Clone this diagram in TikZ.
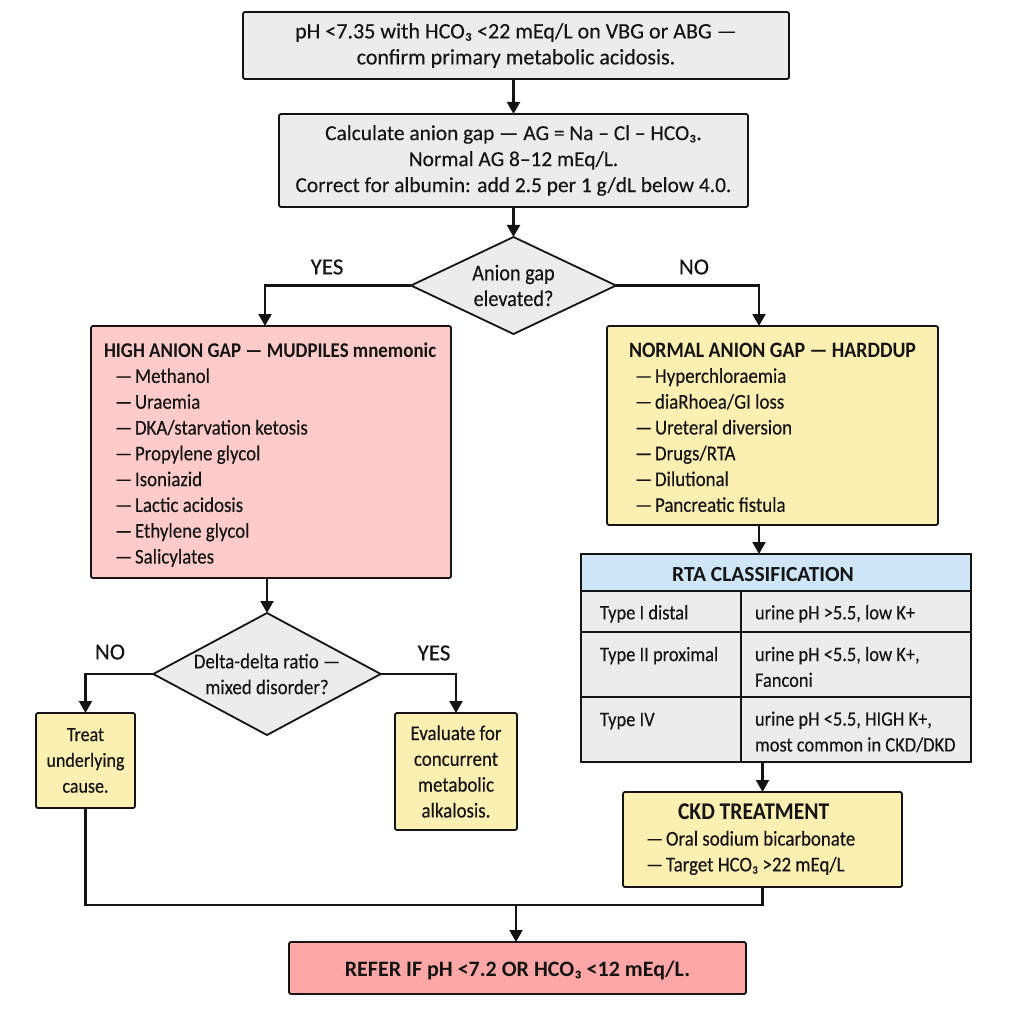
\documentclass[tikz,border=0pt]{standalone}
\usepackage{fontspec}
\setmainfont{Carlito}[FakeBold=0.25,BoldFeatures={FakeBold=0}]
\newfontfamily\listfont{Carlito}[Ligatures=TeX,FakeStretch=0.9,FakeBold=0.25,BoldFeatures={FakeBold=0}]
\usetikzlibrary{arrows.meta,shapes.geometric}
\definecolor{boxgrey}{HTML}{ECECEC}
\definecolor{boxyellow}{HTML}{FBF0B2}
\definecolor{boxpink}{HTML}{FFCACA}
\definecolor{boxblue}{HTML}{CFE5F8}
\definecolor{boxred}{HTML}{FFA6A6}
\definecolor{inkblack}{HTML}{141414}
\newcommand{\itemline}[2]{\hspace*{#1pt}\makebox[20pt][l]{---}#2}
\begin{document}
\begin{tikzpicture}[x=1pt,y=-1pt,
    every node/.style={outer sep=0pt,text=inkblack,font=\fontsize{22}{26}\selectfont},
    narrow/.style={font=\listfont\fontsize{#1}{25.8}\selectfont},
    narrow/.default=21,
    dropped/.style={execute at begin node={\rule{0pt}{#1}}},
    dropped/.default=20pt,
    flowbox/.style={draw=inkblack,line width=1.8pt,rounded corners=2pt,align=center,inner sep=0pt},
    listbox/.style={flowbox,narrow,align=flush left},
    decision/.style={diamond,draw=inkblack,line width=1.8pt,fill=boxgrey,align=center,inner sep=0pt,aspect=2,dropped},
    cell/.style={draw=inkblack,line width=1.8pt,fill=boxgrey,align=flush left,anchor=north west,narrow=20.5,dropped=19pt},
    branch/.style={font=\fontsize{23}{26}\selectfont},
    link/.style={draw=inkblack,line width=2.1pt},
    arrow/.style={link,-{Triangle[length=12pt,width=13pt]}}]
    \path[use as bounding box] (0,0) rectangle (1024,1024);

    % top of the flow
    \node[flowbox,dropped,fill=boxgrey,minimum width=546,minimum height=67] (start) at (516,45.5)
        {pH <7.35 with HCO₃ <22 mEq/L on VBG or ABG ---\\confirm primary metabolic acidosis.};
    \node[flowbox,dropped,fill=boxgrey,minimum width=469,minimum height=93,font=\fontsize{21.4}{26}\selectfont] (calc) at (513.5,160.5)
        {Calculate anion gap --- AG = Na -- Cl -- HCO₃.\\Normal AG 8--12 mEq/L.\\Correct for albumin: add 2.5 per 1 g/dL below 4.0.};
    \node[decision,narrow=22.5,minimum width=205,minimum height=97] (gap) at (513.5,285.5)
        {Anion gap\\elevated?};

    % the two branches
    \node[listbox,dropped,fill=boxpink,minimum width=360,minimum height=252,text width=334,inner xsep=13pt] (high) at (271,452)
        {\textbf{HIGH ANION GAP --- MUDPILES mnemonic}\\
        \itemline{11}{Methanol}\\
        \itemline{11}{Uraemia}\\
        \itemline{11}{DKA/starvation ketosis}\\
        \itemline{11}{Propylene glycol}\\
        \itemline{11}{Isoniazid}\\
        \itemline{11}{Lactic acidosis}\\
        \itemline{11}{Ethylene glycol}\\
        \itemline{11}{Salicylates}};
    \node[listbox,dropped=18pt,fill=boxyellow,minimum width=331,minimum height=199,text width=287,inner xsep=22pt] (normal) at (772.5,425.5)
        {{\fontsize{22}{25.8}\selectfont\textbf{NORMAL ANION GAP --- HARDDUP}}\\
        \itemline{6}{Hyperchloraemia}\\
        \itemline{6}{diaRhoea/GI loss}\\
        \itemline{6}{Ureteral diversion}\\
        \itemline{6}{Drugs/RTA}\\
        \itemline{6}{Dilutional}\\
        \itemline{6}{Pancreatic fistula}};
    \node[branch] (yes1) at (327,267) {YES};
    \node[branch] (no1) at (694,267) {NO};

    % delta-delta part
    \node[decision,narrow,minimum width=225,minimum height=122] (delta) at (267,674)
        {Delta-delta ratio ---\\mixed disorder?};
    \node[flowbox,dropped=24pt,narrow=20,fill=boxyellow,minimum width=99,minimum height=95] (treat) at (85.5,760.5)
        {Treat\\underlying\\cause.};
    \node[flowbox,dropped,narrow,fill=boxyellow,minimum width=122,minimum height=117] (eval) at (456,771.5)
        {Evaluate for\\concurrent\\metabolic\\alkalosis.};
    \node[branch] (no2) at (110,652) {NO};
    \node[branch] (yes2) at (434,653) {YES};

    % RTA table
    \node[cell,minimum width=390,minimum height=37,fill=boxblue,align=center,font=\fontsize{21.5}{26}\selectfont] (rtahead) at (581,554)
        {\textbf{RTA CLASSIFICATION}\hspace{26pt}};
    \node[cell,text width=122,inner xsep=19pt,minimum height=41] (rowa) at (581,591) {Type I distal};
    \node[cell,text width=202,inner xsep=14pt,minimum height=41] (vala) at (741,591) {urine pH >5.5, low K+};
    \node[cell,text width=122,inner xsep=19pt,minimum height=65] (rowb) at (581,632) {Type II proximal\\~};
    \node[cell,text width=202,inner xsep=14pt,minimum height=65] (valb) at (741,632) {urine pH <5.5, low K+,\\Fanconi};
    \node[cell,text width=122,inner xsep=19pt,minimum height=65] (rowc) at (581,697) {Type IV\\~};
    \node[cell,text width=202,inner xsep=14pt,minimum height=65] (valc) at (741,697) {urine pH <5.5, HIGH K+,\\most common in CKD/DKD};

    % bottom boxes
    \node[listbox,fill=boxyellow,minimum width=279,minimum height=95,text width=233,inner xsep=23pt] (ckd) at (762.5,839.5)
        {\hspace*{32pt}{\fontsize{24}{27}\selectfont\textbf{CKD TREATMENT}}\\
        \itemline{0}{Oral sodium bicarbonate}\\
        \itemline{0}{Target HCO₃ >22 mEq/L}};
    \node[flowbox,dropped,fill=boxred,minimum width=457,minimum height=52] (refer) at (517.5,968)
        {\textbf{REFER IF pH <7.2 OR HCO₃ <12 mEq/L.}};
    \coordinate (merge) at (516,905);

    % connectors
    \draw[arrow] (start.south -| calc.north) -- (calc.north);
    \draw[arrow] (calc.south) -- (gap.north);
    \draw[arrow] (gap.west) -| ([xshift=-6pt]high.north);
    \draw[arrow] (gap.east) -| ([xshift=-13.5pt]normal.north);
    \draw[arrow] (high.south -| delta.north) -- (delta.north);
    \draw[arrow] (delta.west) -| (treat.north);
    \draw[arrow] (delta.east) -| (eval.north);
    \draw[arrow] ([xshift=-13.5pt]normal.south) -- ([xshift=-13.5pt]normal.south |- rtahead.north);
    \draw[arrow] (ckd.north |- valc.south) -- (ckd.north);
    \draw[link] (treat.south) |- (merge) -| (ckd.south);
    \draw[arrow] (merge) -- (merge |- refer.north);
\end{tikzpicture}
\end{document}
